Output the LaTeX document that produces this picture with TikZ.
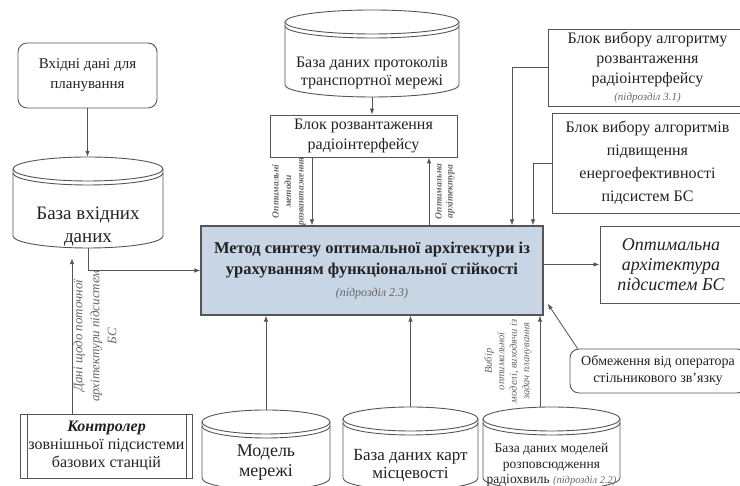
\documentclass[tikz,border=0pt]{standalone}
\usepackage{fontspec}
\setmainfont{Liberation Serif}
\usetikzlibrary{arrows.meta,positioning}
\definecolor{linegray}{HTML}{555555}
\definecolor{textdark}{HTML}{222222}
\definecolor{labelgray}{HTML}{666666}
\definecolor{mainfill}{HTML}{C8D5E5}

\tikzset{
  box/.style={draw=linegray, line width=0.9pt, align=center, inner sep=2pt, text=textdark},
  roundbox/.style={box, rounded corners=9pt},
  dbline/.style={draw=linegray, line width=0.9pt},
  dbtext/.style={align=center, text=textdark, inner sep=0pt},
  arr/.style={draw=linegray, line width=0.8pt, -{Latex[length=6pt,width=4.5pt]}},
  wire/.style={draw=linegray, line width=0.8pt},
  sidetext/.style={text=labelgray, align=center, rotate=90, inner sep=3pt}
}

% database cylinder: name, x, top, bottom, width, text y, font, text
\newcommand{\dbase}[8]{%
  \pgfmathsetmacro{\dbrx}{#5/2}
  \pgfmathsetmacro{\dbmid}{(#3+#4)/2}
  \pgfmathsetmacro{\dbhgt}{#3-#4}
  \node[minimum width=#5pt, minimum height=\dbhgt pt, inner sep=0pt] (#1) at (#2,\dbmid) {};
  \draw[dbline] (#2-\dbrx,#3-12) -- (#2-\dbrx,#4+12) arc[start angle=180, end angle=360, x radius=\dbrx, y radius=12] -- (#2+\dbrx,#3-12);
  \draw[dbline] (#2,#3-12) ellipse[x radius=\dbrx, y radius=12];
  \draw[dbline] (#2-\dbrx,#3-16) arc[start angle=180, end angle=360, x radius=\dbrx, y radius=12];
  \node[dbtext, font=#7] (#1-t) at (#2,#6) {#8};
}

\begin{document}
\begin{tikzpicture}[x=1pt,y=1pt]
\clip (0,0) rectangle (740,486);

% left column
\node[roundbox, minimum width=139pt, minimum height=65pt, font=\fontsize{15}{20}\selectfont] (plan) at (87.5,410.5) {Вхідні дані для\\планування};
\dbase{indb}{88}{329}{238}{150}{259}{\fontsize{19}{23}\selectfont}{База вхідних\\даних}
\node[box, minimum width=172pt, minimum height=64pt, font=\fontsize{16}{18}\selectfont] (ctrl) at (106.5,40) {\textbf{\textit{Контролер}}\\зовнішньої підсистеми\\базових станцій};
\draw[wire] ([xshift=7pt]ctrl.north west) -- ([xshift=7pt]ctrl.south west);
\draw[wire] ([xshift=-7pt]ctrl.north east) -- ([xshift=-7pt]ctrl.south east);

% top
\dbase{proto}{372}{476}{389}{174}{413}{\fontsize{16}{18}\selectfont}{База даних протоколів\\транспортної мережі}
\node[box, minimum width=187pt, minimum height=42pt, font=\fontsize{16}{20}\selectfont] (unload) at (363.5,350) {Блок розвантаження\\радіоінтерфейсу};

% method
\node[box, fill=mainfill, line width=1.2pt, minimum width=342pt, minimum height=89pt, font=\fontsize{16.5}{21}\selectfont\bfseries] (main) at (372,215.5) {Метод синтезу оптимальної архітектури із\\урахуванням функціональної стійкості\\[1pt]{\mdseries\itshape\fontsize{12}{14}\selectfont\color{labelgray}(підрозділ 2.3)}};

% right column
\node[box, minimum width=199pt, minimum height=77pt, font=\fontsize{16}{20}\selectfont] (algo) at (647.5,418.5) {Блок вибору алгоритму\\розвантаження\\радіоінтерфейсу\\[-3pt]{\itshape\fontsize{11}{13}\selectfont\color{labelgray}(підрозділ 3.1)}};
\node[box, minimum width=191pt, minimum height=100pt, font=\fontsize{16}{23}\selectfont] (energy) at (647.5,323) {Блок вибору алгоритмів\\підвищення\\енергоефективності\\підсистем БС};
\node[box, minimum width=142pt, minimum height=77pt, font=\fontsize{18}{20}\selectfont\itshape] (result) at (671,221.5) {Оптимальна\\архітектура\\підсистем БС};
\node[roundbox, minimum width=176pt, minimum height=44pt, font=\fontsize{14}{17}\selectfont] (limit) at (658,115) {Обмеження від оператора\\стільникового зв’язку};

% bottom row
\dbase{model}{266}{76}{-4}{128}{23}{\fontsize{18}{20}\selectfont}{Модель\\мережі}
\dbase{maps}{410.5}{79}{-4}{135}{20}{\fontsize{17}{18}\selectfont}{База даних карт\\місцевості}
\dbase{waves}{551.5}{79}{-4}{137}{21}{\fontsize{13.5}{15.5}\selectfont}{База даних моделей\\розповсюдження\\радіохвиль {\itshape\fontsize{10.5}{12}\selectfont\color{labelgray}(підрозділ 2.2)}}

% connectors
\draw[arr] (plan.south) -- (plan.south |- indb.north);
\draw[arr] (indb.south) |- (main.west);
\coordinate (ctrlup) at ([xshift=-34.5pt]ctrl.north);
\path (ctrlup |- indb.south) ++(0,-10) coordinate (ctrltip);
\draw[arr] (ctrlup) -- (ctrltip) node[sidetext, midway, anchor=north, inner sep=1pt, font=\fontsize{13}{17}\selectfont\itshape] (ctrllab) {Дані щодо поточної\\архітектури підсистем\\БС};

\draw[arr] (proto.south) -- (proto.south |- unload.north);
\coordinate (unl) at ([xshift=-51.5pt]unload.south);
\coordinate (unr) at ([xshift=65.5pt]unload.south);
\draw[arr] (unl) -- (unl |- main.north) node[sidetext, midway, anchor=south, inner sep=6pt, font=\fontsize{9.5}{12.5}\selectfont\bfseries\itshape] (methlab) {Оптимальні\\методи\\розвантаження};
\draw[arr] (unr |- main.north) -- (unr) node[sidetext, midway, anchor=north, inner sep=6pt, font=\fontsize{9.5}{11}\selectfont\bfseries\itshape] (archlab) {Оптимальна\\архітектура};

\draw[arr] (algo.west) -| ([xshift=140pt]main.north);
\draw[arr] (energy.west) -| ([xshift=161pt]main.north);
\draw[arr] (result.west -| main.east) -- (result.west);
\draw[arr] ([xshift=8pt]limit.north west) -- ([xshift=4pt,yshift=12pt]main.south east);

\draw[arr] (model.north) -- (model.north |- main.south);
\draw[arr] (maps.north) -- (maps.north |- main.south);
\coordinate (wavtop) at ([xshift=-11.5pt]waves.north);
\draw[arr] (wavtop) -- (wavtop |- main.south) node[sidetext, midway, anchor=south, inner sep=8pt, font=\fontsize{10.5}{12.5}\selectfont\itshape] (choicelab) {Вибір\\оптимальної\\моделі, виходячи із\\задач планування};
\end{tikzpicture}
\end{document}
